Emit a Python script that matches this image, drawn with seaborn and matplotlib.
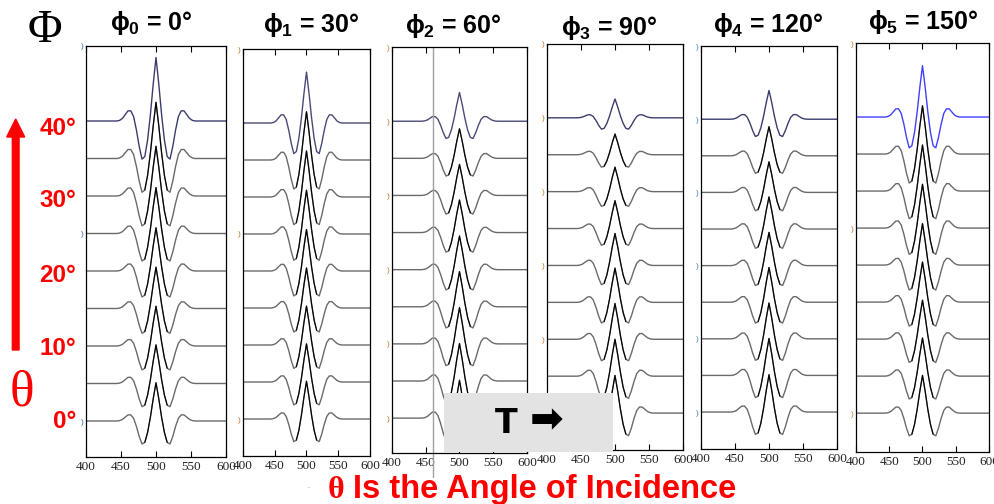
import numpy as np
import pandas as pd
import matplotlib
matplotlib.use("Agg")
import matplotlib.pyplot as plt
import seaborn as sns
from matplotlib.patches import Rectangle, FancyArrow

sns.set_theme(style="white")
plt.rcParams['font.family'] = ['Liberation Sans', 'DejaVu Sans']
plt.rcParams['mathtext.fontset'] = 'custom'
plt.rcParams['mathtext.rm'] = 'Liberation Sans'
plt.rcParams['mathtext.bf'] = 'Liberation Sans:bold'
plt.rcParams['mathtext.it'] = 'Liberation Sans:italic'

# ---------------- data ----------------
phi_deg = [0, 30, 60, 90, 120, 150]
theta_deg = [0, 5, 10, 15, 20, 25, 30, 35, 40]

# wavelet (time in ms, normalised amplitude)
wavelet_t = [400, 444, 448, 452, 456, 460, 464, 468, 472, 476, 480, 484, 488, 492, 496,
             500, 504, 508, 512, 516, 520, 524, 528, 532, 536, 540, 544, 548, 552, 556, 600]
wavelet_a = [0.0, 0.0, 0.01, 0.04, 0.10, 0.16, 0.16, 0.07, -0.14, -0.40, -0.60, -0.56, -0.30, 0.10, 0.58,
             1.0, 0.58, 0.10, -0.30, -0.56, -0.60, -0.40, -0.14, 0.07, 0.16, 0.16, 0.10, 0.04, 0.01, 0.0, 0.0]

# relative peak amplitude of each trace (theta = 0..40 deg), one list per azimuth
amp_phi0 = [1.00, 1.01, 1.04, 1.08, 1.13, 1.20, 1.30, 1.47, 1.66]
amp_phi30 = [1.00, 1.01, 1.03, 1.06, 1.10, 1.16, 1.22, 1.28, 1.35]
amp_phi60 = [1.00, 0.99, 0.96, 0.93, 0.89, 0.86, 0.82, 0.78, 0.76]
amp_phi90 = [1.00, 0.98, 0.95, 0.91, 0.85, 0.74, 0.65, 0.55, 0.50]
amp_phi120 = [1.00, 0.99, 0.96, 0.93, 0.89, 0.86, 0.82, 0.78, 0.77]
amp_phi150 = [1.00, 1.01, 1.03, 1.06, 1.10, 1.16, 1.22, 1.28, 1.36]
amplitudes = [amp_phi0, amp_phi30, amp_phi60, amp_phi90, amp_phi120, amp_phi150]

x_ticks = [400, 450, 500, 550, 600]
angle_labels = ["0°", "10°", "20°", "30°", "40°"]

# ---------------- layout ----------------
W, H = 995, 504
fig = plt.figure(figsize=(W / 100, H / 100), dpi=100)
fig.patch.set_facecolor('white')

def fx(x):
    return x / W

def fy(y):
    return 1 - y / H

panel_boxes = [(86, 226, 46, 457), (243, 370, 49, 456), (392, 527, 47, 453),
               (547, 683, 44, 450), (701, 837, 46, 449), (856, 989, 43, 452)]
panel_ybottom = [-0.96, -1.0, -0.94, -1.0, -1.01, -1.05]
ytick_sets = [[0, 5, 10], [0, 5, 10], [0, 2, 4, 6, 8, 10], [0, 2, 4, 6, 8, 10],
              [0, 2, 4, 6, 8, 10], [0, 5, 10]]
ytick_colors = ['#3a6ab0', '#c07a30', '#c07a30', '#c07a30', '#3a8ad0', '#c07a30']
top_colors = ['#3c3c6c', '#4a4a78', '#4a4a78', '#3c3c6c', '#3c3c6c', '#4040ff']
title_x = [151, 311, 453, 609, 768, 923]
title_base = [30, 32, 33, 35, 32, 29]
SCALE = 1.02

for i, (box, amps) in enumerate(zip(panel_boxes, amplitudes)):
    x0, x1, y0, y1 = box
    ax = fig.add_axes([fx(x0), fy(y1), (x1 - x0) / W, (y1 - y0) / H])
    rows = []
    for k, (th, a) in enumerate(zip(theta_deg, amps)):
        for t, w in zip(wavelet_t, wavelet_a):
            rows.append(dict(t=t, y=k + SCALE * a * w, theta=th))
    df = pd.DataFrame(rows)
    pal = {th: '#6a6a6a' for th in theta_deg}
    pal[theta_deg[-1]] = top_colors[i]
    sns.lineplot(data=df, x='t', y='y', hue='theta', palette=pal, units='theta',
                 estimator=None, sort=False, legend=False, lw=1.0, ax=ax)
    center = df[(df.t >= 484) & (df.t <= 516) & (df.theta != theta_deg[-1])]
    sns.lineplot(data=center, x='t', y='y', units='theta', estimator=None, sort=False,
                 color='black', lw=0.8, ax=ax)
    ax.set_xlim(400, 600)
    ax.set_ylim(panel_ybottom[i], 10)
    ax.set_xticks(x_ticks)
    ax.set_xticklabels([str(v) for v in x_ticks])
    ax.set_yticks(ytick_sets[i])
    ax.set_yticklabels([')'] * len(ytick_sets[i]))
    ax.tick_params(axis='x', direction='in', length=4, width=0.8, color='black',
                   top=True, bottom=True, labelsize=9.5, pad=3, labelcolor='#222222')
    ax.tick_params(axis='y', length=0, pad=1.5, labelsize=6, labelcolor=ytick_colors[i],
                   left=True)
    for lab in ax.get_xticklabels():
        lab.set_fontfamily('Liberation Serif')
    ax.set_xlabel('')
    ax.set_ylabel('')
    ax.set_facecolor('white')
    for sp in ax.spines.values():
        sp.set_color('black')
        sp.set_linewidth(0.9)
    if i == 2:
        ax.axvline(461, ymin=-24 / (y1 - y0), ymax=1, color='#a0a0a0', lw=1.0, clip_on=False)
    fig.text(fx(title_x[i]), fy(title_base[i]), r"$\mathbf{ϕ_{%d}}$ = %d°" % (i, phi_deg[i]),
             ha='center', va='baseline', fontsize=18, fontweight='bold', color='black')

# left-hand annotations
fig.text(fx(45), fy(42), "Φ", family='Liberation Serif', fontsize=34, ha='center',
         va='baseline', color='black')
label_base = [428, 355, 282, 207, 135]
for lab, yb in zip(angle_labels, label_base):
    fig.text(fx(76), fy(yb), lab, ha='right', va='baseline', color='red', fontsize=17.5,
             fontweight='bold')
fig.add_artist(FancyArrow(15.7 / 100, (H - 350) / 100, 0, (350 - 119) / 100,
                          width=0.067, head_width=0.18, head_length=0.18,
                          length_includes_head=True, color='red',
                          transform=fig.dpi_scale_trans))
fig.text(fx(22), fy(406), "θ", family='Liberation Serif', color='red', fontsize=37,
         ha='center', va='baseline')

# bottom caption
fig.text(fx(336), fy(498), "θ", family='Liberation Serif', fontweight='bold', color='red',
         fontsize=23, ha='center', va='baseline')
fig.text(fx(353), fy(498), "Is the Angle of Incidence", color='red', fontsize=23.5,
         fontweight='bold', ha='left', va='baseline')
fig.text(fx(308), fy(491), "·", color='#888888', fontsize=8, ha='center', va='baseline')

# grey "T ->" box
fig.add_artist(Rectangle((fx(444), fy(452)), (613 - 444) / W, (452 - 393) / H,
                         transform=fig.transFigure, facecolor='#e3e3e3', edgecolor='none',
                         zorder=5))
fig.text(fx(506), fy(433), "T", family=['DejaVu Sans'], fontweight='heavy', fontsize=24,
         ha='center', va='baseline', color='black', zorder=6)
fig.text(fx(547), fy(432), "➡", family=['DejaVu Sans'], fontweight='bold', fontsize=29,
         ha='center', va='baseline', color='black', zorder=6)

fig.savefig('out.png', dpi=100, facecolor='white')
